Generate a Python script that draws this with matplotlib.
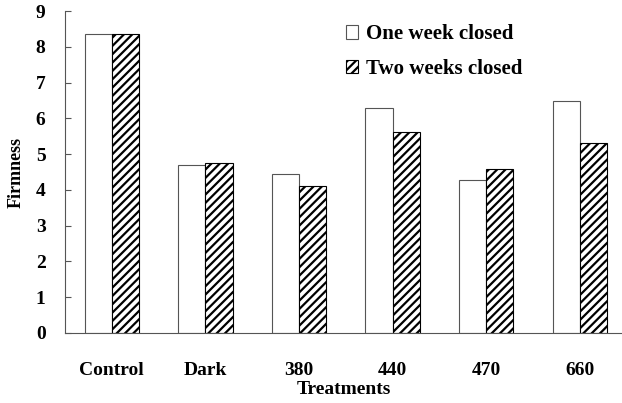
import matplotlib.pyplot as plt
import numpy as np

plt.rcParams['font.family'] = 'Liberation Serif'
plt.rcParams['font.weight'] = 'bold'
plt.rcParams['axes.labelweight'] = 'bold'
plt.rcParams['hatch.linewidth'] = 1.6

treatments = ['Control', 'Dark', '380', '440', '470', '660']
one_week = [8.35, 4.69, 4.44, 6.28, 4.27, 6.48]
two_weeks = [8.35, 4.75, 4.10, 5.61, 4.58, 5.30]

x = np.arange(len(treatments))
w = 0.29

fig = plt.figure(figsize=(6.22, 4.03), dpi=100)
ax = fig.add_axes([0.1045, 0.1737, 0.8955, 0.799])

ax.bar(x - w / 2, one_week, w, color='white', edgecolor='#555555',
       linewidth=0.8, label='One week closed')
ax.bar(x + w / 2, two_weeks, w, color='white', edgecolor='black',
       linewidth=0.8, hatch='////', label='Two weeks closed')

ax.set_xlim(-0.5, 5.45)
ax.set_ylim(0, 9)
ax.set_yticks(range(10))
ax.set_xticks(x)
ax.set_xticklabels(treatments, fontsize=14)
ax.tick_params(axis='y', direction='in', length=4, labelsize=14, pad=14,
               color='#555555')
ax.tick_params(axis='x', length=0, pad=21)
ax.spines['top'].set_visible(False)
ax.spines['right'].set_visible(False)
ax.spines['left'].set_color('#555555')
ax.spines['bottom'].set_color('#555555')
ax.spines['left'].set_linewidth(0.8)
ax.spines['bottom'].set_linewidth(0.8)

ax.set_xlabel('Treatments', fontsize=14, labelpad=1)
ax.set_ylabel('Firmness', fontsize=13, labelpad=8)

ax.legend(loc='upper left', bbox_to_anchor=(0.47, 1.017), frameon=False,
          fontsize=15, handlelength=0.6, handleheight=0.6, handletextpad=0.4,
          labelspacing=0.7)

fig.savefig('out.png', dpi=100)
